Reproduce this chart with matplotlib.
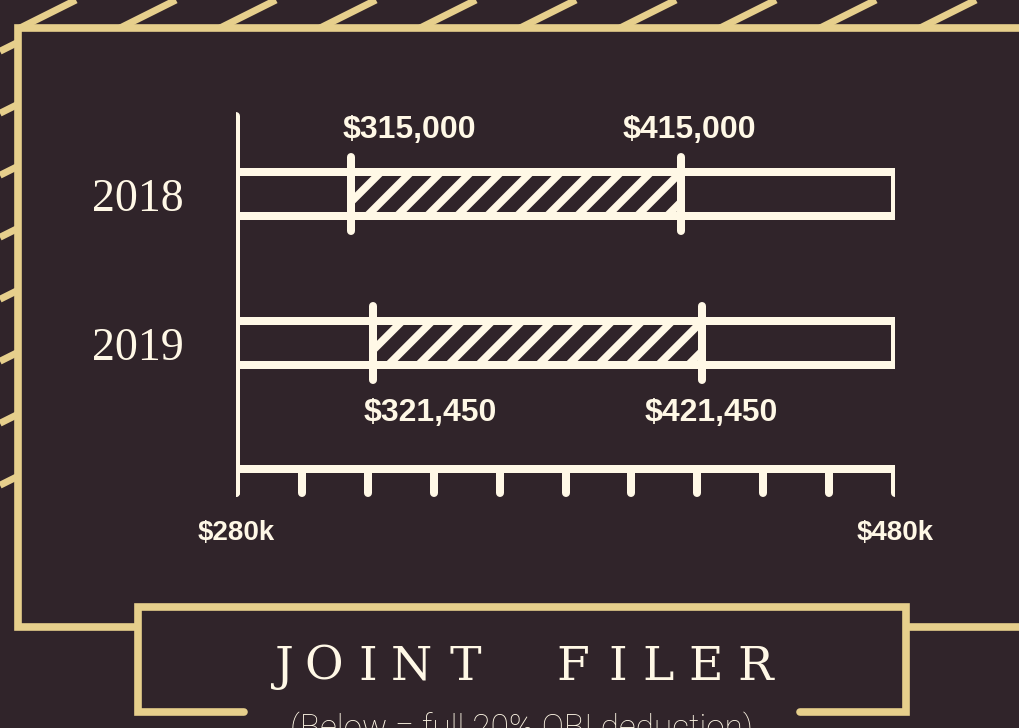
import numpy as np
import matplotlib
matplotlib.use("Agg")
import matplotlib.pyplot as plt
from matplotlib.patches import Rectangle
from matplotlib.collections import LineCollection
from matplotlib.transforms import offset_copy

# ---------------- data ----------------
years = ["2018", "2019"]
lower = [315000, 321450]
upper = [415000, 421450]
lower_labels = ["$315,000", "$321,450"]
upper_labels = ["$415,000", "$421,450"]
axis_ticks_k = [280, 300, 320, 340, 360, 380, 400, 420, 440, 460, 480]
axis_tick_labels = {280: "$280k", 480: "$480k"}
title = "JOINT FILER"
subtitle = "(Below = full 20% QBI deduction)"

# ---------------- style ----------------
BG = "#30242a"
CREAM = "#fff8e6"
GOLD = "#e6cf8c"
W, H = 1020, 728
DPI = 100

fig = plt.figure(figsize=(W / DPI, H / DPI), dpi=DPI)
fig.patch.set_facecolor(BG)

# decoration axes in pixel coordinates
deco = fig.add_axes([0, 0, 1, 1], zorder=0)
deco.set_xlim(0, W)
deco.set_ylim(H, 0)
deco.axis("off")
deco.patch.set_alpha(0)

# diagonal gold hatch outside frame (top band and left band)
slope = 0.5
segs = []
for k in range(11):
    xb = 20 + 100 * k
    segs.append([(xb, 28), (xb + 28 / slope, 0)])
for j in range(8):
    yb = 42 + 62 * j
    segs.append([(0, yb + 18.5 * slope), (18.5, yb)])
deco.add_collection(LineCollection(segs, colors=GOLD, linewidths=5.0, zorder=1))

frame_lw = 5.5
# main frame
deco.plot([W + 10, 18.5, 18.5, 138], [28, 28, 627, 627], color=GOLD, lw=frame_lw,
          solid_joinstyle="miter", solid_capstyle="butt", zorder=2)
deco.plot([906, W + 10], [627, 627], color=GOLD, lw=frame_lw, solid_capstyle="butt", zorder=2)
# title box
deco.plot([244, 138, 138, 906, 906, 800], [712, 712, 607, 607, 712, 712], color=GOLD,
          lw=frame_lw, solid_joinstyle="miter", solid_capstyle="round", zorder=2)

# title letters (letter-spaced)
letter_x = [284, 324, 367.5, 411, 465, 572.5, 617.5, 658, 706, 755]
letters = [c for c in title if c != " "]
for c, x in zip(letters, letter_x):
    deco.text(x, 680, c, ha="center", va="baseline", color=CREAM,
              fontsize=34, family="DejaVu Serif", zorder=3)

deco.text(522, 738, subtitle, ha="center", va="baseline", color=CREAM,
          fontsize=24, family=["Roboto", "DejaVu Sans"], fontweight="light", zorder=3)

# ---------------- chart axes ----------------
x_min, x_max = axis_ticks_k[0], axis_ticks_k[-1]
px_left, px_right = 236, 895
px_top, px_bot = 100, 560
y0_px, step_px = 194, 149          # pixel centre of first bar, spacing
ytop = (px_top - y0_px) / step_px
ybot = (px_bot - y0_px) / step_px

ax = fig.add_axes([px_left / W, (H - px_bot) / H, (px_right - px_left) / W, (px_bot - px_top) / H],
                  zorder=1)
ax.set_xlim(x_min, x_max)
ax.set_ylim(ybot, ytop)
ax.axis("off")
ax.patch.set_alpha(0)

lw = 5.76
bar_h = 0.30
div_half = 0.25
pos = np.arange(len(years))

# pixel scales for 45-degree hatch
p0 = ax.transData.transform((0, 0))
sx = ax.transData.transform((1, 0))[0] - p0[0]
sy = abs(ax.transData.transform((0, 1))[1] - p0[1])
hatch_spacing_px = 30
hatch_lw = 5.5

for i, (yr, lo, hi) in enumerate(zip(years, lower, upper)):
    lo_k, hi_k = lo / 1000, hi / 1000
    y = pos[i]
    # hatch
    clip = Rectangle((lo_k, y - bar_h / 2), hi_k - lo_k, bar_h, transform=ax.transData)
    dx = bar_h * sy / sx
    step = hatch_spacing_px / sx
    hs = []
    x0 = lo_k - dx
    while x0 < hi_k:
        hs.append([(x0, y + bar_h / 2), (x0 + dx, y - bar_h / 2)])
        x0 += step
    lc = LineCollection(hs, colors=CREAM, linewidths=hatch_lw, capstyle="butt", zorder=2)
    ax.add_collection(lc)
    lc.set_clip_path(clip)
    # outline bar
    ax.add_patch(Rectangle((x_min, y - bar_h / 2), x_max - x_min, bar_h, fill=False,
                           ec=CREAM, lw=lw, joinstyle="miter", zorder=3))
    # dividers
    for v in (lo_k, hi_k):
        ax.plot([v, v], [y - div_half, y + div_half], color=CREAM, lw=lw,
                solid_capstyle="round", zorder=4)
    # year label
    ax.text(x_min, y, yr, transform=offset_copy(ax.transData, fig=fig, x=-98, y=-6, units="dots"),
            ha="center", va="center", color=CREAM, fontsize=33, family="Liberation Serif")
    # value labels
    ly = y - 0.43 if i == 0 else y + 0.47
    ax.text(lo_k, ly, lower_labels[i],
            transform=offset_copy(ax.transData, fig=fig, x=-9, y=0, units="dots"),
            ha="left", va="center", color=CREAM, fontsize=23, fontweight="bold",
            family="Liberation Sans")
    ax.text(hi_k, ly, upper_labels[i],
            transform=offset_copy(ax.transData, fig=fig, x=9, y=0, units="dots"),
            ha="center", va="center", color=CREAM, fontsize=23, fontweight="bold",
            family="Liberation Sans")

# axis lines
axis_y = (469 - y0_px) / step_px
tick_bot = (493 - y0_px) / step_px
vtop = (116 - y0_px) / step_px
ax.plot([x_min, x_min], [vtop, tick_bot], color=CREAM, lw=lw, solid_capstyle="round", zorder=3)
ax.plot([x_min, x_max], [axis_y, axis_y], color=CREAM, lw=lw, solid_capstyle="round", zorder=3)
for t in axis_ticks_k:
    ax.plot([t, t], [axis_y, tick_bot], color=CREAM, lw=lw, solid_capstyle="round", zorder=3)
    if t in axis_tick_labels:
        ax.text(t, (533 - y0_px) / step_px, axis_tick_labels[t], ha="center", va="center",
                color=CREAM, fontsize=20, fontweight="bold", family="Liberation Sans")

fig.savefig("out.png", dpi=DPI, facecolor=BG)
